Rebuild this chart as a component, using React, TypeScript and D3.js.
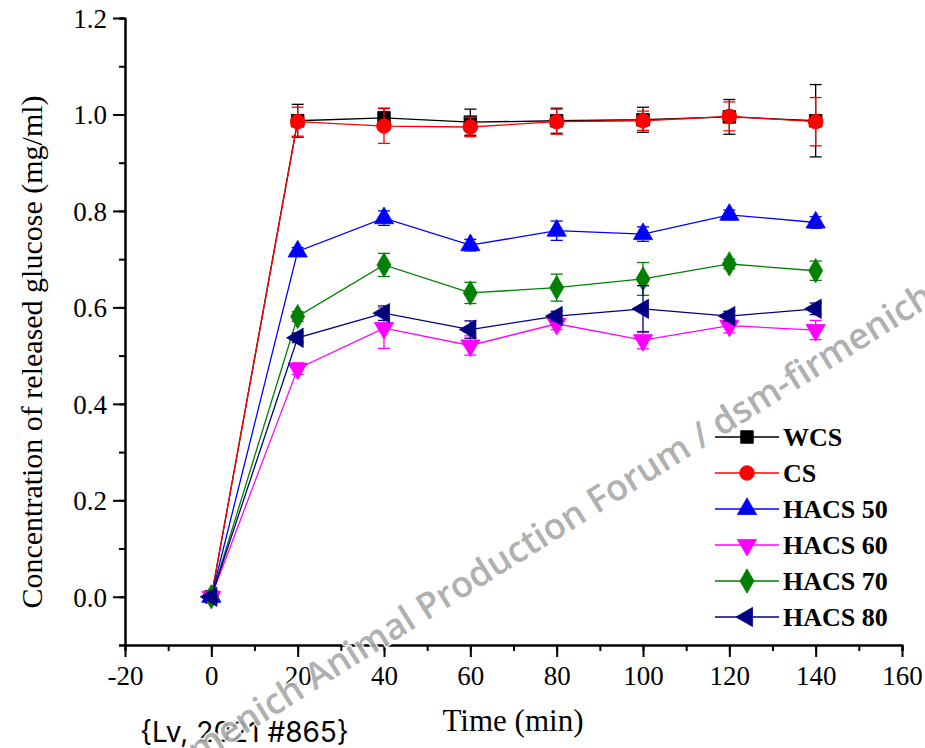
import { useEffect, useRef } from "react";
import * as d3 from "d3";

// release time points (min)
const times = [0, 20, 40, 60, 80, 100, 120, 140];

const wcs = [0, 0.987, 0.993, 0.984, 0.987, 0.989, 0.995, 0.987];
const wcsErr = [0, 0.034, 0.02, 0.027, 0.026, 0.026, 0.036, 0.075];
const cs = [0, 0.985, 0.976, 0.974, 0.985, 0.987, 0.996, 0.985];
const csErr = [0, 0.03, 0.036, 0.02, 0.026, 0.02, 0.03, 0.05];
const hacs50 = [0, 0.716, 0.785, 0.729, 0.759, 0.752, 0.792, 0.776];
const hacs50Err = [0, 0.008, 0.015, 0.012, 0.02, 0.015, 0.01, 0.012];
const hacs60 = [0, 0.473, 0.557, 0.521, 0.566, 0.532, 0.562, 0.553];
const hacs60Err = [0, 0.012, 0.042, 0.02, 0.012, 0.018, 0.015, 0.02];
const hacs70 = [0, 0.581, 0.688, 0.63, 0.641, 0.659, 0.69, 0.676];
const hacs70Err = [0, 0.01, 0.024, 0.022, 0.028, 0.034, 0.01, 0.02];
const hacs80 = [0, 0.537, 0.588, 0.554, 0.582, 0.597, 0.582, 0.597];
const hacs80Err = [0, 0.01, 0.015, 0.018, 0.01, 0.048, 0.01, 0.012];

const seriesNames = ["WCS", "CS", "HACS 50", "HACS 60", "HACS 70", "HACS 80"];
const seriesColors = ["#000000", "#ff0000", "#0000ff", "#ff00ff", "#008000", "#000080"];
const seriesValues = [wcs, cs, hacs50, hacs60, hacs70, hacs80];
const seriesErrors = [wcsErr, csErr, hacs50Err, hacs60Err, hacs70Err, hacs80Err];

const xTicks = [-20, 0, 20, 40, 60, 80, 100, 120, 140, 160];
const yTicks = [0, 0.2, 0.4, 0.6, 0.8, 1.0, 1.2];

const WIDTH = 925;
const HEIGHT = 748;
const MARGIN = { top: 18, right: 23, bottom: 103, left: 125 };
const SERIF = "'Liberation Serif', 'Times New Roman', serif";

// marker shape per series: symbol + rotation
const markerDefs = [
  { type: d3.symbolSquare, size: 160, rotate: 0 },
  { type: d3.symbolCircle, size: 170, rotate: 0 },
  { type: d3.symbolTriangle, size: 160, rotate: 0 },
  { type: d3.symbolTriangle, size: 160, rotate: 180 },
  { type: d3.symbolDiamond, size: 170, rotate: 0 },
  { type: d3.symbolTriangle, size: 160, rotate: -90 },
];

const Marker = ({ i, x, y }: { i: number; x: number; y: number }) => {
  const m = markerDefs[i];
  const path = d3.symbol().type(m.type).size(m.size)() as string;
  return (
    <path
      d={path}
      transform={`translate(${x},${y}) rotate(${m.rotate})`}
      fill={seriesColors[i]}
      stroke={seriesColors[i]}
      strokeWidth={0.8}
    />
  );
};

const App = () => {
  const axesRef = useRef<SVGGElement>(null);
  const boundsWidth = WIDTH - MARGIN.left - MARGIN.right;
  const boundsHeight = HEIGHT - MARGIN.top - MARGIN.bottom;

  const xScale = d3.scaleLinear().domain([-20, 160]).range([0, boundsWidth]);
  const yScale = d3.scaleLinear().domain([-0.1, 1.2]).range([boundsHeight, 0]);

  useEffect(() => {
    const g = d3.select(axesRef.current);
    g.selectAll("*").remove();

    const xMinor = d3.range(-20, 161, 10);
    const yMinor = d3.range(-0.1, 1.21, 0.1);

    g.append("g")
      .attr("transform", `translate(0,${boundsHeight})`)
      .call(d3.axisBottom(xScale).tickValues(xMinor).tickSize(6).tickFormat(() => ""));
    g.append("g")
      .call(d3.axisLeft(yScale).tickValues(yMinor).tickSize(6).tickFormat(() => ""));

    const xAxis = g
      .append("g")
      .attr("transform", `translate(0,${boundsHeight})`)
      .call(
        d3.axisBottom(xScale).tickValues(xTicks).tickSize(12).tickSizeOuter(0).tickPadding(6)
          .tickFormat((d) => String(d))
      );
    const yAxis = g
      .append("g")
      .call(
        d3.axisLeft(yScale).tickValues(yTicks).tickSize(12).tickSizeOuter(0).tickPadding(6)
          .tickFormat((d) => (+d).toFixed(1))
      );

    g.selectAll("path.domain").attr("stroke", "#000").attr("stroke-width", 2);
    g.selectAll(".tick line").attr("stroke", "#000").attr("stroke-width", 2);
    [xAxis, yAxis].forEach((a) =>
      a.selectAll("text").attr("font-family", SERIF).attr("font-size", 27).attr("fill", "#000")
    );
    xAxis.selectAll("text").attr("dy", "0.8em");
    yAxis.selectAll("text").attr("dy", "0.35em");
  }, []);

  const line = d3
    .line<number>()
    .x((_, i) => xScale(times[i]))
    .y((d) => yScale(d));

  const legendX = 715;
  const legendY0 = 437;
  const legendStep = 36;

  return (
    <svg
      width={WIDTH}
      height={HEIGHT}
      style={{ position: "absolute", left: 0, top: 0, background: "#fff" }}
    >
      <g transform={`translate(${MARGIN.left},${MARGIN.top})`}>
        {seriesValues.map((vals, s) => (
          <g key={s}>
            <path d={line(vals) as string} fill="none" stroke={seriesColors[s]} strokeWidth={1.3} />
            {vals.map((v, j) => {
              const e = seriesErrors[s][j];
              if (!e) return null;
              const x = xScale(times[j]);
              return (
                <g key={j} stroke={seriesColors[s]} strokeWidth={1.3}>
                  <line x1={x} x2={x} y1={yScale(v - e)} y2={yScale(v + e)} />
                  <line x1={x - 6} x2={x + 6} y1={yScale(v - e)} y2={yScale(v - e)} />
                  <line x1={x - 6} x2={x + 6} y1={yScale(v + e)} y2={yScale(v + e)} />
                </g>
              );
            })}
            {vals.map((v, j) => (
              <Marker key={j} i={s} x={xScale(times[j])} y={yScale(v)} />
            ))}
          </g>
        ))}
      </g>
      <g ref={axesRef} transform={`translate(${MARGIN.left},${MARGIN.top})`} />

      {/* legend */}
      {seriesNames.map((name, i) => {
        const y = legendY0 + i * legendStep;
        return (
          <g key={name}>
            <line x1={legendX} x2={legendX + 64} y1={y} y2={y} stroke={seriesColors[i]} strokeWidth={1.3} />
            <Marker i={i} x={legendX + 32} y={y} />
            <text
              x={legendX + 68}
              y={y}
              dy="0.35em"
              fontFamily={SERIF}
              fontWeight="bold"
              fontSize={26}
            >
              {name}
            </text>
          </g>
        );
      })}

      {/* axis titles */}
      <text
        transform={`translate(42,352) rotate(-90)`}
        textAnchor="middle"
        fontFamily={SERIF}
        fontSize={30}
      >
        Concentration of released glucose (mg/ml)
      </text>
      <text x={513} y={731} textAnchor="middle" fontFamily={SERIF} fontSize={31}>
        Time (min)
      </text>

      <text x={140} y={742} fontFamily="Inter, 'Open Sans', sans-serif" fontSize={28} fill="#000">
        {"{Lv, 2021 #865}"}
      </text>

      {/* watermark */}
      <text
        transform="translate(92,830) rotate(-32)"
        fontFamily="'Open Sans', sans-serif"
        fontWeight={600}
        fontSize={36}
        fill="#a8a8a8"
        stroke="#fff"
        strokeWidth={3}
        paintOrder="stroke"
        opacity={0.9}
      >
        dsm-firmenich Animal Production Forum / dsm-firmenich
      </text>
    </svg>
  );
};

export default App;
